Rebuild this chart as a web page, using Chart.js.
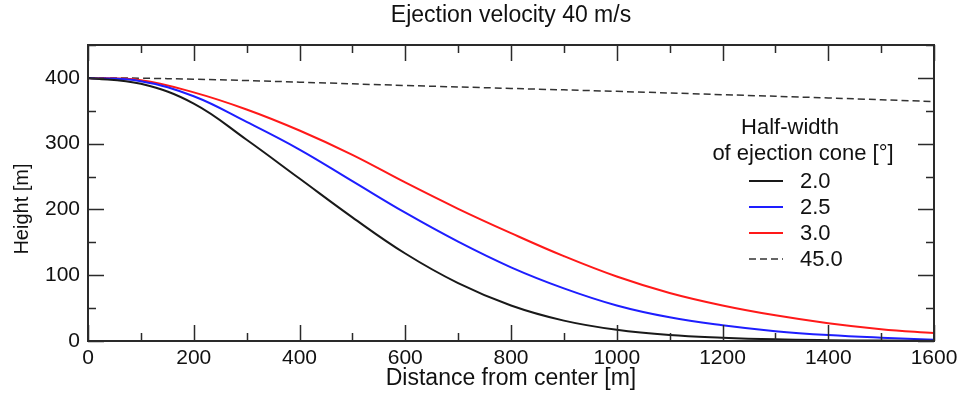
<!DOCTYPE html>
<html><head><meta charset="utf-8">
<script src="https://cdn.jsdelivr.net/npm/chart.js@4/dist/chart.umd.min.js"></script>
<style>html,body{margin:0;padding:0;background:#fff;}#wrap{width:965px;height:401px;}</style>
</head><body><div id="wrap"><canvas id="c" width="965" height="401"></canvas></div>
<script>
const titleText = "Ejection velocity 40 m/s";
const xTitle = "Distance from center [m]";
const yTitle = "Height [m]";
const legendTitle = ["Half-width", "of ejection cone [°]"];
const seriesLabels = ["2.0", "2.5", "3.0", "45.0"];

const distance = [0, 100, 200, 300, 400, 500, 600, 700, 800, 900, 1000, 1100, 1200, 1300, 1400, 1500, 1600];
const height20 = [400, 391, 361, 306, 247, 188, 133, 88, 54, 31, 17, 9, 5, 2.5, 1.3, 0.7, 0.3];
const height25 = [400, 395, 372, 333, 291, 243, 195, 151, 112, 80, 54, 36, 24, 15, 9, 5, 2];
const height30 = [400, 396.5, 378, 352, 320, 283, 241, 201, 164, 129, 98, 73, 54, 39, 27, 18, 12];

const distance45 = [0, 100, 200, 300, 400, 600, 800, 1000, 1200, 1400, 1600];
const height45 = [400, 399.5, 398, 396, 393.5, 388.5, 384, 379.5, 374.5, 369.5, 364];

const xTickLabels = [0, 200, 400, 600, 800, 1000, 1200, 1400, 1600];
const yTickLabels = [0, 100, 200, 300, 400];

const FONT = '"Liberation Sans", Arial, Helvetica, sans-serif';
const TXT = '#111';

function pts(xs, ys) { return xs.map((x, i) => ({ x: x, y: ys[i] })); }

const decor = {
  id: 'decor',
  afterDraw(chart) {
    const ctx = chart.ctx, a = chart.chartArea, xs = chart.scales.x, ys = chart.scales.y;
    ctx.save();
    ctx.strokeStyle = '#2a2a2a';
    ctx.lineWidth = 1.5;
    ctx.beginPath();
    xs.ticks.forEach(t => {
      const p = Math.round(xs.getPixelForValue(t.value)) + 0.5;
      const L = xTickLabels.includes(t.value) ? 16 : 8;
      ctx.moveTo(p, a.bottom); ctx.lineTo(p, a.bottom - L);
      ctx.moveTo(p, a.top); ctx.lineTo(p, a.top + L);
    });
    ys.ticks.forEach(t => {
      const p = Math.round(ys.getPixelForValue(t.value)) + 0.5;
      const L = yTickLabels.includes(t.value) ? 16 : 8;
      ctx.moveTo(a.left, p); ctx.lineTo(a.left + L, p);
      ctx.moveTo(a.right, p); ctx.lineTo(a.right - L, p);
    });
    ctx.stroke();
    ctx.lineWidth = 2;
    ctx.strokeRect(a.left, a.top, a.right - a.left, a.bottom - a.top);

    ctx.fillStyle = TXT;
    ctx.textBaseline = 'middle';
    ctx.textAlign = 'center';
    ctx.font = '23px ' + FONT;
    ctx.fillText(titleText, (a.left + a.right) / 2, 16);
    ctx.fillText(xTitle, (a.left + a.right) / 2, 379);
    ctx.save();
    ctx.translate(22, 209);
    ctx.rotate(-Math.PI / 2);
    ctx.font = '20px ' + FONT;
    ctx.fillText(yTitle, 0, 0);
    ctx.restore();

    // legend
    ctx.font = '22px ' + FONT;
    ctx.fillText(legendTitle[0], 790, 128);
    ctx.fillText(legendTitle[1], 803, 154);
    ctx.textAlign = 'left';
    chart.data.datasets.forEach((ds, i) => {
      const yy = 181 + i * 26;
      ctx.save();
      ctx.strokeStyle = ds.borderColor;
      ctx.lineWidth = ds.borderWidth;
      ctx.setLineDash(ds.borderDash || []);
      ctx.beginPath();
      ctx.moveTo(749, yy); ctx.lineTo(783, yy);
      ctx.stroke();
      ctx.restore();
      ctx.fillText(ds.label, 800, yy + 1);
    });
    ctx.restore();
  }
};

new Chart(document.getElementById('c'), {
  type: 'line',
  data: {
    datasets: [
      { label: seriesLabels[0], data: pts(distance, height20), borderColor: 'rgb(25,25,25)', borderWidth: 2 },
      { label: seriesLabels[1], data: pts(distance, height25), borderColor: 'rgb(30,30,255)', borderWidth: 2 },
      { label: seriesLabels[2], data: pts(distance, height30), borderColor: 'rgb(255,25,25)', borderWidth: 2 },
      { label: seriesLabels[3], data: pts(distance45, height45), borderColor: '#333', borderWidth: 1.5, borderDash: [7, 4] }
    ]
  },
  options: {
    responsive: false,
    animation: false,
    devicePixelRatio: 1,
    datasets: { line: { pointRadius: 0, fill: false, tension: 0.4 } },
    layout: { padding: { top: 45, right: 31, left: 0, bottom: 0 } },
    plugins: { legend: { display: false }, title: { display: false }, tooltip: { enabled: false } },
    scales: {
      x: {
        type: 'linear', min: 0, max: 1600,
        grid: { display: false, drawTicks: false },
        border: { display: false },
        ticks: {
          stepSize: 100, autoSkip: false, maxRotation: 0, padding: 5,
          color: TXT, font: { family: FONT, size: 21 },
          callback: v => xTickLabels.includes(v) ? String(v) : ''
        },
        afterFit: s => { s.height = 60; }
      },
      y: {
        type: 'linear', min: 0, max: 450,
        grid: { display: false, drawTicks: false },
        border: { display: false },
        ticks: {
          stepSize: 50, autoSkip: false, padding: 8,
          color: TXT, font: { family: FONT, size: 21 },
          callback: v => yTickLabels.includes(v) ? String(v) : ''
        },
        afterFit: s => { s.width = 88; }
      }
    }
  },
  plugins: [decor]
});
</script></body></html>
